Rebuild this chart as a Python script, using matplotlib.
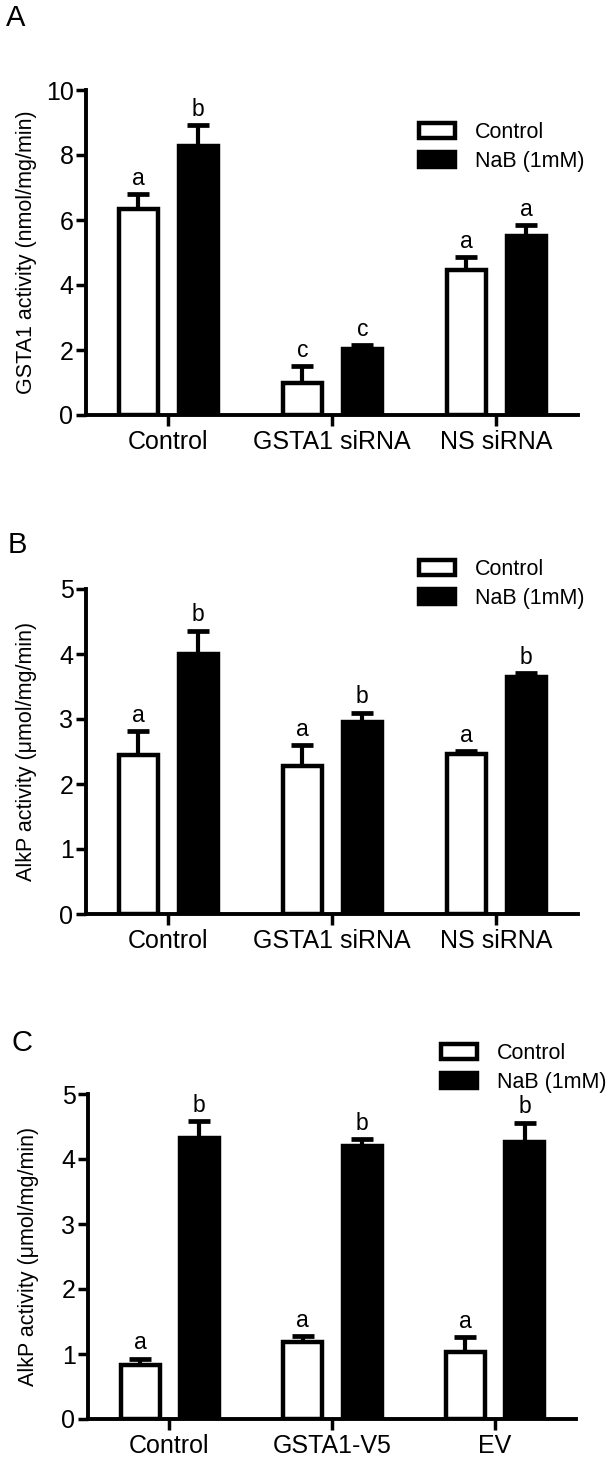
import numpy as np
import matplotlib
matplotlib.use("Agg")
import matplotlib.pyplot as plt
from matplotlib.patches import Patch

plt.rcParams['font.family'] = ['Liberation Sans', 'DejaVu Sans']

# panel A: GSTA1 activity
a_groups = ["Control", "GSTA1 siRNA", "NS siRNA"]
a_ctrl = [6.35, 1.0, 4.45]
a_ctrl_err = [0.45, 0.5, 0.4]
a_nab = [8.28, 2.03, 5.5]
a_nab_err = [0.64, 0.12, 0.35]
a_ctrl_let = ["a", "c", "a"]
a_nab_let = ["b", "c", "a"]

# panel B: AlkP activity, siRNA
b_groups = ["Control", "GSTA1 siRNA", "NS siRNA"]
b_ctrl = [2.45, 2.28, 2.46]
b_ctrl_err = [0.36, 0.32, 0.05]
b_nab = [4.0, 2.96, 3.64]
b_nab_err = [0.36, 0.14, 0.07]
b_ctrl_let = ["a", "a", "a"]
b_nab_let = ["b", "b", "b"]

# panel C: AlkP activity, overexpression
c_groups = ["Control", "GSTA1-V5", "EV"]
c_ctrl = [0.83, 1.18, 1.03]
c_ctrl_err = [0.1, 0.09, 0.23]
c_nab = [4.33, 4.2, 4.26]
c_nab_err = [0.25, 0.11, 0.3]
c_ctrl_let = ["a", "a", "a"]
c_nab_let = ["b", "b", "b"]

series_names = ["Control", "NaB (1mM)"]

W, H = 609, 1458
fig = plt.figure(figsize=(W / 100, H / 100), dpi=100)

def px_axes(left, right, top, bottom):
    return fig.add_axes([left / W, 1 - bottom / H, (right - left) / W, (bottom - top) / H])

lw_bar = 3.2
lw_ax = 2.8

def panel(ax, groups, ctrl, ctrl_err, nab, nab_err, lc, ln, ymax, ystep, ylabel, leg_xy):
    x = np.arange(len(groups))
    w = 0.24
    xc = x - 0.18
    xn = x + 0.185
    ax.bar(xc, ctrl, w, color='white', edgecolor='black', linewidth=lw_bar, zorder=3)
    ax.bar(xn, nab, w, color='black', edgecolor='black', linewidth=lw_bar, zorder=3)
    for xs, vals, errs, lets in [(xc, ctrl, ctrl_err, lc), (xn, nab, nab_err, ln)]:
        ax.errorbar(xs, vals, yerr=[np.zeros(len(x)), errs], fmt='none', ecolor='black',
                    elinewidth=3.0, capsize=8, capthick=3.4, zorder=2)
        for xi, v, e, t in zip(xs, vals, errs, lets):
            ax.annotate(t, (xi, v + e), xytext=(0, 3), textcoords='offset points',
                        ha='center', va='bottom', fontsize=16.5)
    ax.set_xlim(-0.5, 2.5)
    ax.set_ylim(0, ymax)
    ax.set_yticks(np.arange(0, ymax + 0.01, ystep))
    ax.set_xticks(x)
    ax.set_xticklabels(groups, fontsize=18)
    ax.tick_params(axis='y', labelsize=18, width=2.5, length=7, pad=2)
    ax.tick_params(axis='x', width=2.5, length=8, pad=3)
    for s in ['top', 'right']:
        ax.spines[s].set_visible(False)
    for s in ['left', 'bottom']:
        ax.spines[s].set_linewidth(lw_ax)
    ax.set_ylabel(ylabel, fontsize=15.5)
    ax.yaxis.set_label_coords(-0.1, 0.5)
    handles = [Patch(facecolor='white', edgecolor='black', linewidth=3.2),
               Patch(facecolor='black', edgecolor='black', linewidth=3.2)]
    ax.legend(handles, series_names, loc='upper left', bbox_to_anchor=(leg_xy[0] / W, 1 - leg_xy[1] / H),
              bbox_transform=fig.transFigure, frameon=False, fontsize=15.5, borderpad=0,
              borderaxespad=0, handlelength=1.65, handleheight=0.7, handletextpad=0.95,
              labelspacing=0.38)

axA = px_axes(86, 578, 90, 415)
panel(axA, a_groups, a_ctrl, a_ctrl_err, a_nab, a_nab_err, a_ctrl_let, a_nab_let,
      10, 2, "GSTA1 activity (nmol/mg/min)", (419, 122))
axB = px_axes(86, 578, 589, 914)
panel(axB, b_groups, b_ctrl, b_ctrl_err, b_nab, b_nab_err, b_ctrl_let, b_nab_let,
      5, 1, "AlkP activity (\u03bcmol/mg/min)", (419, 559))
axC = px_axes(88, 576, 1094, 1419)
panel(axC, c_groups, c_ctrl, c_ctrl_err, c_nab, c_nab_err, c_ctrl_let, c_nab_let,
      5, 1, "AlkP activity (\u03bcmol/mg/min)", (441, 1043))

fig.text(16 / W, 1 - 18 / H, "A", fontsize=21, ha='center', va='center')
fig.text(17 / W, 1 - 545 / H, "B", fontsize=21, ha='center', va='center')
fig.text(22 / W, 1 - 1043 / H, "C", fontsize=21, ha='center', va='center')

fig.savefig("out.png", dpi=100)
